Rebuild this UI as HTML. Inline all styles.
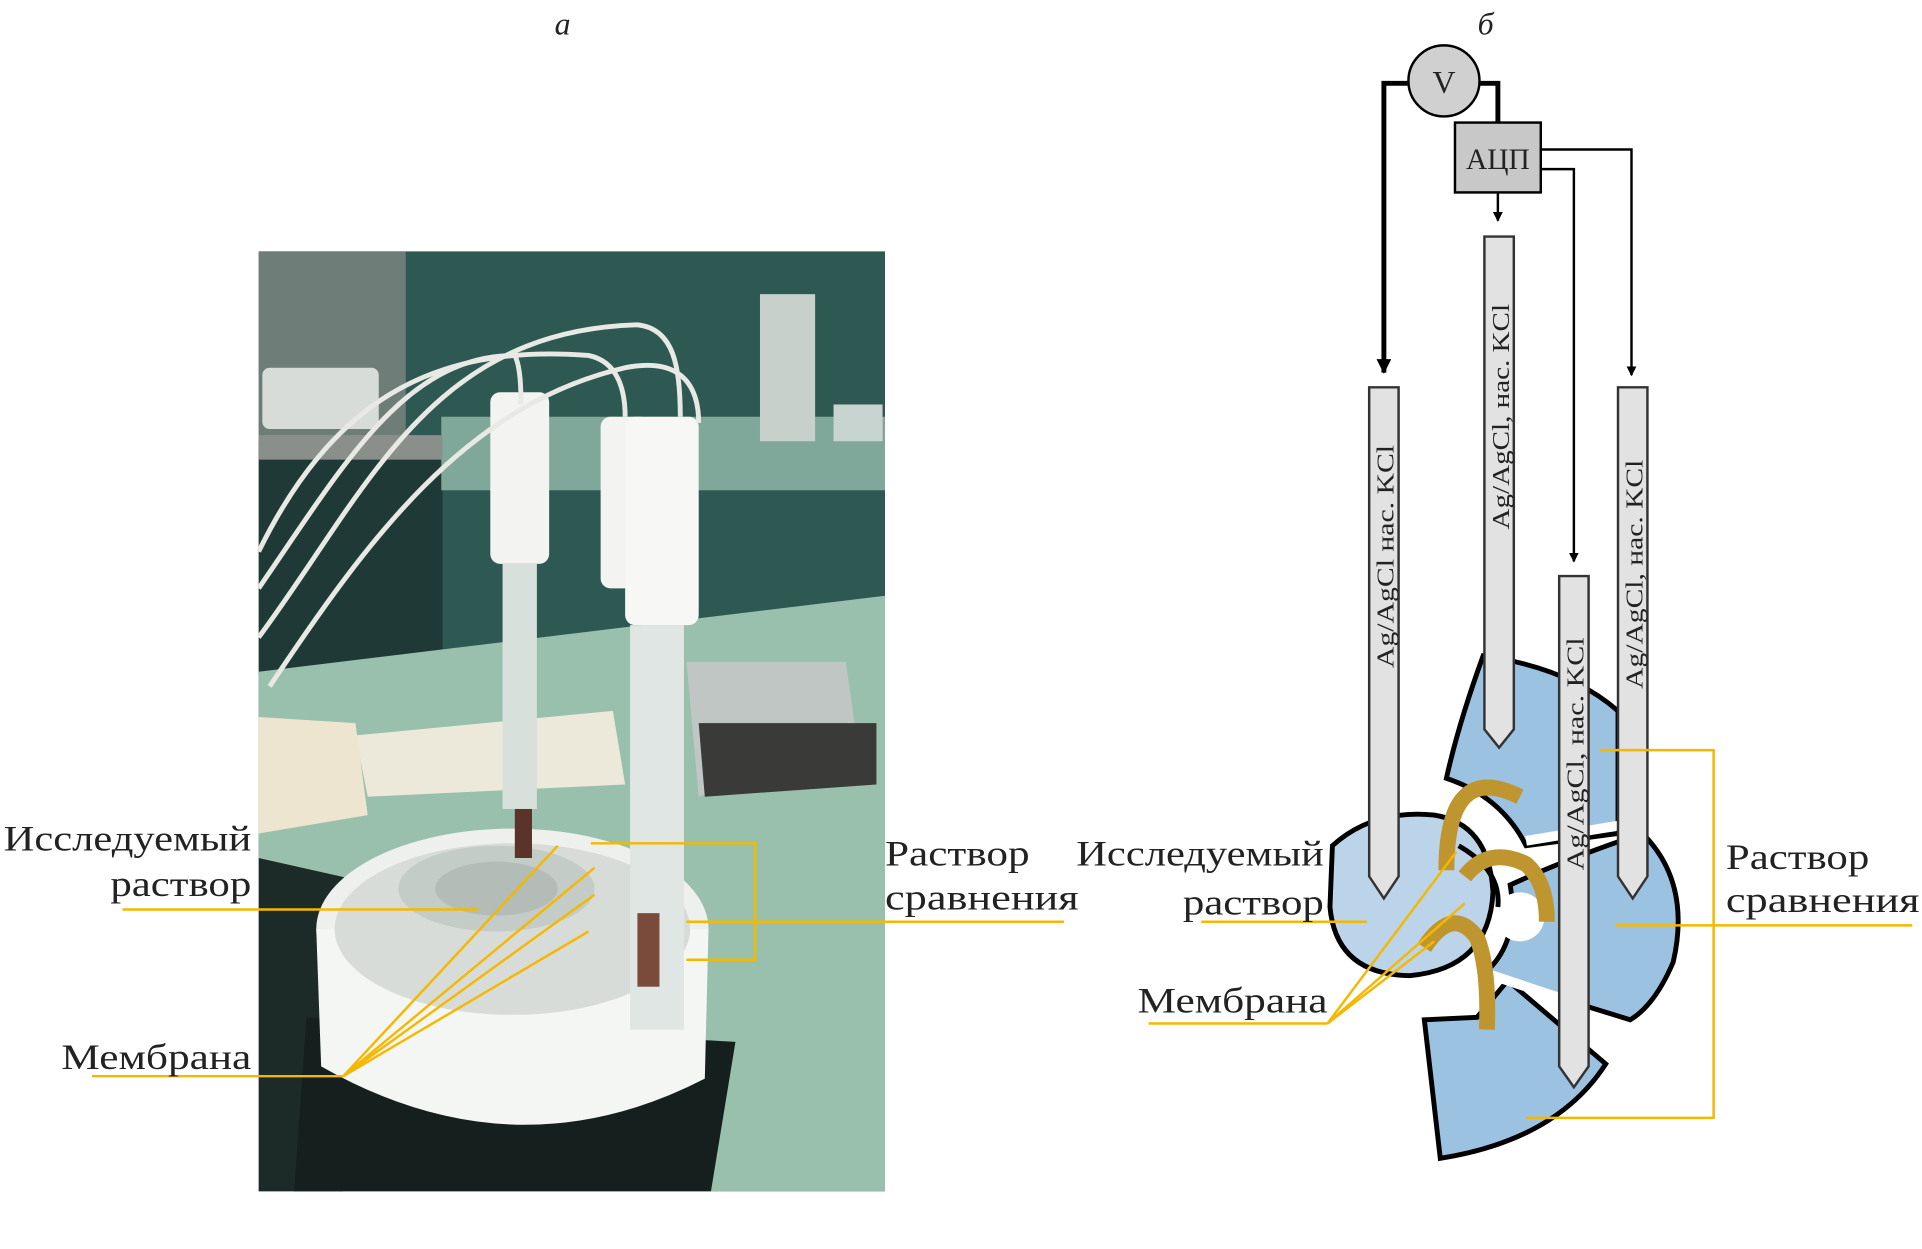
<!DOCTYPE html>
<html><head><meta charset="utf-8"><style>
html,body{margin:0;padding:0;background:#fff;}
svg{display:block;}
text{font-family:"Liberation Serif",serif;fill:#222;}
</style></head><body>
<svg width="1922" height="1249" viewBox="0 0 1568 1019" preserveAspectRatio="none" xmlns="http://www.w3.org/2000/svg">
<defs>
<marker id="ah" markerWidth="8" markerHeight="8" refX="4" refY="7" orient="0" markerUnits="userSpaceOnUse"><path d="M0,0 L8,0 L4,8 z" fill="#000"/></marker>
<marker id="ah2" markerWidth="12" markerHeight="12" refX="6" refY="11" orient="0" markerUnits="userSpaceOnUse"><path d="M0,0 L12,0 L6,12 z" fill="#000"/></marker>
<clipPath id="ph"><rect x="211" y="205" width="511" height="767"/></clipPath>
</defs>
<text x="459" y="28" font-size="26" font-style="italic" text-anchor="middle">а</text>
<text x="1212" y="28" font-size="26" font-style="italic" text-anchor="middle">б</text>

<!-- photo -->
<g clip-path="url(#ph)">
<rect x="211" y="205" width="511" height="767" fill="#2e5852"/>
<rect x="211" y="205" width="120" height="160" fill="#6f7d78"/>
<rect x="211" y="360" width="150" height="190" fill="#1f3a36"/>
<rect x="360" y="340" width="362" height="60" fill="#7fa79a"/>
<rect x="211" y="355" width="150" height="20" fill="#8a8f8c"/>
<rect x="214" y="300" width="95" height="50" rx="6" fill="#d8dcd8"/>
<rect x="620" y="240" width="45" height="120" fill="#c8d0cc"/>
<rect x="680" y="330" width="40" height="30" fill="#c8d4d0"/>
<path d="M211,548 L722,486 L722,972 L211,972 Z" fill="#98c0ac"/>
<path d="M211,700 L300,720 L280,972 L211,972Z" fill="#1c2a28"/>
<path d="M250,830 L600,850 L580,972 L240,972Z" fill="#15201e"/>
<path d="M560,540 L690,540 L700,610 L570,650Z" fill="#bfc6c4"/>
<path d="M570,590 L715,590 L715,640 L575,650Z" fill="#3a3a38"/>
<ellipse cx="418" cy="758" rx="160" ry="82" fill="#eef0ee"/>
<path d="M258,758 L262,870 Q420,960 575,880 L578,758 Z" fill="#f4f6f4"/>
<ellipse cx="418" cy="758" rx="145" ry="70" fill="#d8dcd9"/>
<ellipse cx="405" cy="725" rx="80" ry="35" fill="#c4ccc8"/>
<ellipse cx="405" cy="725" rx="50" ry="22" fill="#b4bcb8"/>
<path d="M290,600 L500,580 L510,640 L300,650Z" fill="#ece8da"/>
<path d="M211,585 L290,590 L300,665 L211,680Z" fill="#ede5d0"/>
<rect x="400" y="320" width="48" height="140" rx="8" fill="#f3f3f1"/>
<rect x="410" y="460" width="28" height="200" fill="#d8e0dc"/>
<rect x="490" y="340" width="40" height="140" rx="8" fill="#f3f3f1"/>
<rect x="510" y="340" width="60" height="170" rx="8" fill="#f7f7f5"/>
<rect x="514" y="510" width="44" height="330" fill="#dfe6e3"/>
<rect x="520" y="745" width="18" height="60" fill="#7a4a3a"/>
<rect x="420" y="660" width="14" height="40" fill="#5a3428"/>
<path d="M211,520 C300,400 350,270 520,265 C550,268 555,300 555,340" stroke="#e8e8e4" stroke-width="4" fill="none"/>
<path d="M211,480 C280,380 330,290 420,290 C425,300 425,320 425,330" stroke="#e8e8e4" stroke-width="4" fill="none"/>
<path d="M211,450 C270,330 350,280 480,290 C505,295 510,320 510,340" stroke="#e8e8e4" stroke-width="4" fill="none"/>
<path d="M220,560 C300,440 380,330 510,300 C560,290 570,320 570,345" stroke="#e8e8e4" stroke-width="4" fill="none"/>
</g>

<!-- left photo annotations -->
<g stroke="#f5b800" stroke-width="2" fill="none">
<line x1="100" y1="742" x2="390" y2="742"/>
<line x1="75" y1="878" x2="280" y2="878"/>
<line x1="280" y1="878" x2="455" y2="690"/>
<line x1="280" y1="878" x2="485" y2="708"/>
<line x1="280" y1="878" x2="485" y2="730"/>
<line x1="280" y1="878" x2="480" y2="760"/>
<polyline points="482,688 616,688 616,783 560,783"/>
<line x1="560" y1="752" x2="868" y2="752"/>
</g>
<g font-size="29">
<text x="3" y="694" textLength="202" lengthAdjust="spacingAndGlyphs">Исследуемый</text>
<text x="90" y="731" textLength="115" lengthAdjust="spacingAndGlyphs">раствор</text>
<text x="50" y="872" textLength="155" lengthAdjust="spacingAndGlyphs">Мембрана</text>
<text x="722" y="706" textLength="118" lengthAdjust="spacingAndGlyphs">Раствор</text>
<text x="722" y="742" textLength="158" lengthAdjust="spacingAndGlyphs">сравнения</text>
</g>

<!-- diagram б -->
<path d="M1162,832 L1205,830 L1230,800 L1310,868 Q1270,930 1175,945 Z" fill="#9cc2e2" stroke="#000" stroke-width="4"/>
<path d="M1232,722 Q1280,700 1340,680 Q1380,720 1365,785 Q1350,820 1330,832 L1210,795 Q1240,770 1232,722 Z" fill="#9cc2e2" stroke="#000" stroke-width="4"/>
<circle cx="1240" cy="748" r="20" fill="#fff"/>
<path d="M1210,535 Q1280,545 1320,580 L1320,680 L1245,690 Q1225,650 1180,635 Q1190,590 1210,535 Z" fill="#9cc2e2" stroke="#000" stroke-width="4"/>
<path d="M1087,690 Q1120,660 1170,665 Q1215,672 1218,728 Q1215,790 1150,796 Q1090,795 1085,740 Z" fill="#bcd4ea" stroke="#000" stroke-width="4"/>
<path d="M1190,690 Q1225,710 1222,740" stroke="#000" stroke-width="4" fill="none"/>
<line x1="1245" y1="686" x2="1330" y2="672" stroke="#fff" stroke-width="8"/>
<line x1="1215" y1="795" x2="1290" y2="820" stroke="#fff" stroke-width="8"/>

<polyline points="1150,68 1129,68 1129,304" stroke="#000" stroke-width="4" fill="none" marker-end="url(#ah2)"/>
<polyline points="1206,68 1222,68 1222,100" stroke="#000" stroke-width="4" fill="none"/>
<polyline points="1258,122 1331,122 1331,306" stroke="#000" stroke-width="2" fill="none" marker-end="url(#ah)"/>
<polyline points="1258,138 1284,138 1284,458" stroke="#000" stroke-width="2" fill="none" marker-end="url(#ah)"/>
<line x1="1222" y1="157" x2="1222" y2="180" stroke="#000" stroke-width="2" marker-end="url(#ah)"/>
<circle cx="1178" cy="66" r="29" fill="#d0d0d0" stroke="#000" stroke-width="2"/>
<text x="1178" y="76" font-size="26" text-anchor="middle">V</text>
<rect x="1187" y="100" width="70" height="57" fill="#c8c8c8" stroke="#000" stroke-width="2"/>
<text x="1222" y="138" font-size="24" text-anchor="middle">АЦП</text>

<g fill="#e2e2e2" stroke="#333" stroke-width="2">
<path d="M1117,316 L1141,316 L1141,715 L1129,733 L1117,715 Z"/>
<path d="M1211,193 L1235,193 L1235,595 L1223,610 L1211,595 Z"/>
<path d="M1272,470 L1296,470 L1296,870 L1284,887 L1272,870 Z"/>
<path d="M1320,316 L1344,316 L1344,715 L1332,733 L1320,715 Z"/>
</g>
<g font-size="20">
<text transform="translate(1137,545) rotate(-90)" textLength="182" lengthAdjust="spacingAndGlyphs">Ag/AgCl нас. KCl</text>
<text transform="translate(1231,432) rotate(-90)" textLength="184" lengthAdjust="spacingAndGlyphs">Ag/AgCl, нас. KCl</text>
<text transform="translate(1292,710) rotate(-90)" textLength="190" lengthAdjust="spacingAndGlyphs">Ag/AgCl, нас. KCl</text>
<text transform="translate(1340,562) rotate(-90)" textLength="187" lengthAdjust="spacingAndGlyphs">Ag/AgCl, нас. KCl</text>
</g>

<g stroke="#bf9530" stroke-width="13" fill="none">
<path d="M1180,710 Q1180,620 1240,650"/>
<path d="M1195,715 Q1215,690 1245,705 Q1262,720 1262,752"/>
<path d="M1162,773 Q1185,738 1205,765 Q1215,790 1213,840"/>
</g>

<g stroke="#f5b800" stroke-width="2" fill="none">
<line x1="980" y1="752" x2="1115" y2="752"/>
<line x1="937" y1="835" x2="1083" y2="835"/>
<line x1="1083" y1="835" x2="1188" y2="695"/>
<line x1="1083" y1="835" x2="1195" y2="737"/>
<line x1="1083" y1="835" x2="1170" y2="768"/>
<polyline points="1305,612 1398,612 1398,912 1245,912"/>
<line x1="1318" y1="755" x2="1560" y2="755"/>
</g>
<g font-size="29">
<text x="878" y="706" textLength="202" lengthAdjust="spacingAndGlyphs">Исследуемый</text>
<text x="965" y="746" textLength="115" lengthAdjust="spacingAndGlyphs">раствор</text>
<text x="928" y="826" textLength="155" lengthAdjust="spacingAndGlyphs">Мембрана</text>
<text x="1408" y="709" textLength="117" lengthAdjust="spacingAndGlyphs">Раствор</text>
<text x="1408" y="744" textLength="158" lengthAdjust="spacingAndGlyphs">сравнения</text>
</g>
</svg>
</body></html>
